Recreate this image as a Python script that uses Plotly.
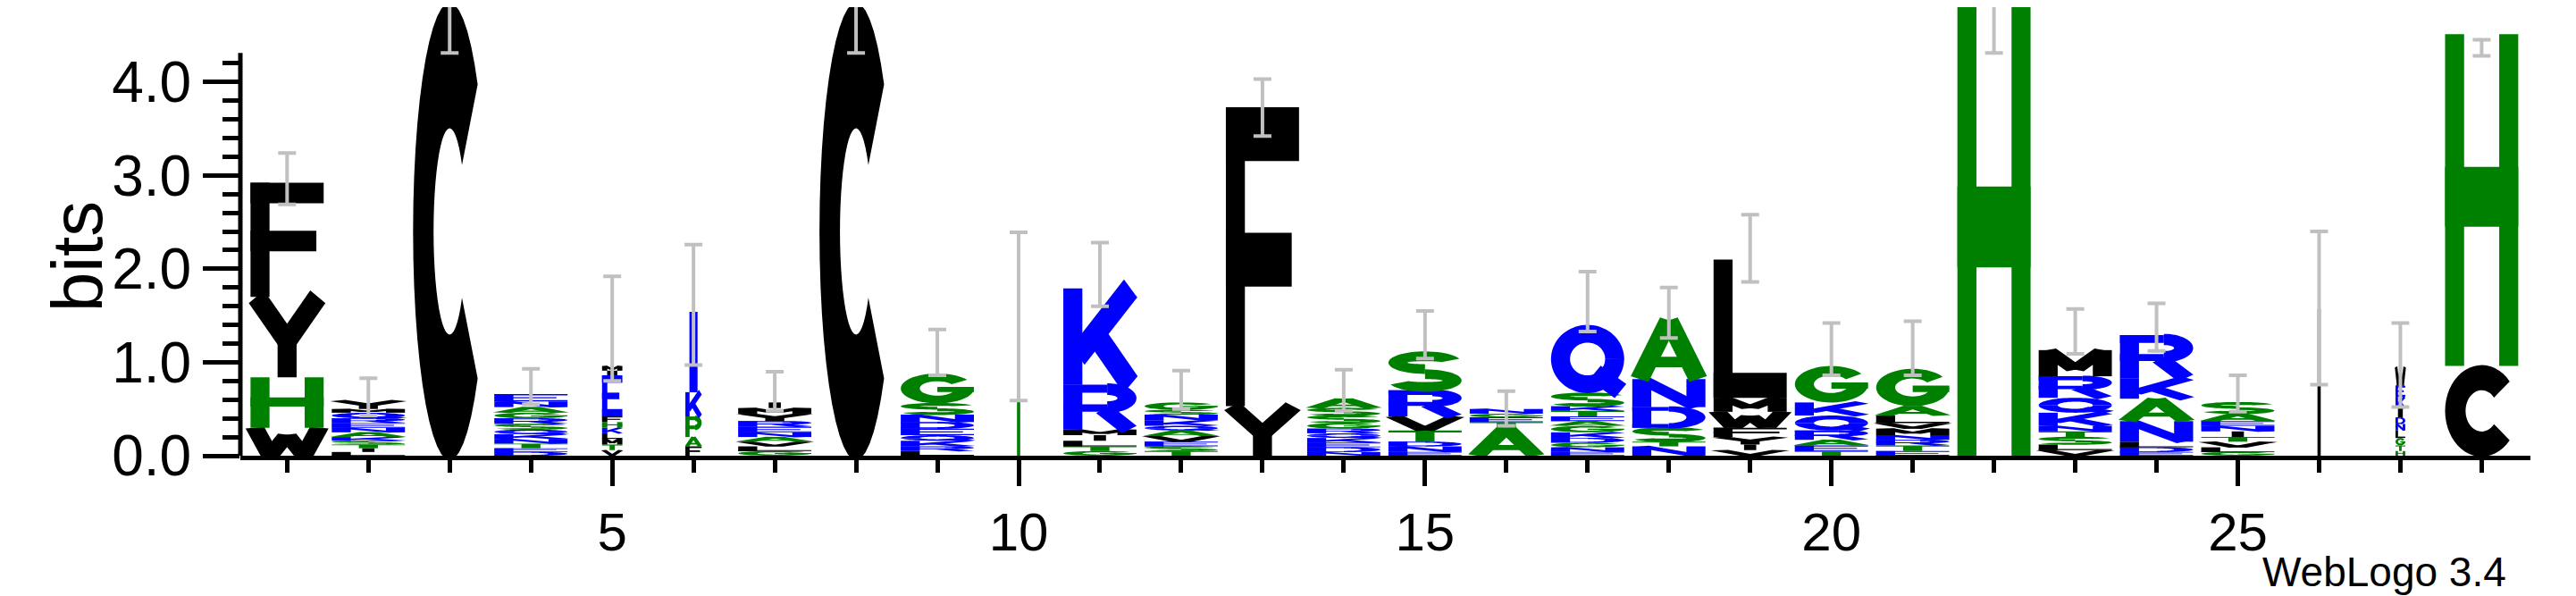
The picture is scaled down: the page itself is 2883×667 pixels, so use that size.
import math
import plotly.graph_objects as go

# ---------------- data ----------------
positions = list(range(1, 29))
# each stack: bottom-to-top list of (letter, height_bits[, colour override])
stacks = [
    [("W", 0.30), ("H", 0.54), ("Y", 0.86), ("F", 1.22)],
    [("L", 0.04), ("I", 0.04), ("T", 0.04), ("S", 0.04), ("K", 0.04), ("A", 0.05), ("N", 0.05), ("E", 0.05), ("R", 0.05), ("Q", 0.06), ("M", 0.04), ("Y", 0.09)],
    [("C", 4.80)],
    [("D", 0.04), ("E", 0.04), ("T", 0.05), ("N", 0.05), ("K", 0.05), ("Q", 0.05), ("S", 0.06), ("R", 0.06), ("G", 0.06), ("A", 0.06), ("N", 0.06), ("E", 0.08)],
    [("V", 0.06), ("T", 0.06), ("M", 0.06), ("L", 0.06), ("K", 0.06), ("H", 0.06), ("F", 0.06), ("E", 0.44, "b"), ("I", 0.05), ("M", 0.05)],
    [("F", 0.10), ("A", 0.10), ("P", 0.22), ("K", 0.26), ("I", 0.86, "b")],
    [("G", 0.05), ("L", 0.05), ("V", 0.05), ("A", 0.05), ("N", 0.05), ("E", 0.06), ("R", 0.06), ("Y", 0.08), ("M", 0.06), ("I", 0.06)],
    [("C", 4.80)],
    [("L", 0.05), ("R", 0.05), ("K", 0.06), ("Q", 0.06), ("E", 0.07), ("D", 0.07), ("N", 0.08), ("S", 0.12), ("G", 0.32)],
    [("I", 1.48, "g")],
    [("G", 0.05), ("T", 0.05), ("L", 0.06), ("I", 0.06), ("M", 0.06), ("R", 0.48), ("K", 1.03)],
    [("T", 0.05), ("S", 0.05), ("E", 0.05), ("V", 0.06), ("A", 0.06), ("Q", 0.05), ("K", 0.06), ("N", 0.06), ("S", 0.05), ("G", 0.08)],
    [("Y", 0.53), ("F", 3.20)],
    [("N", 0.04), ("D", 0.05), ("E", 0.05), ("K", 0.05), ("Q", 0.05), ("R", 0.05), ("G", 0.06), ("S", 0.08), ("S", 0.08), ("A", 0.10)],
    [("E", 0.04), ("N", 0.06), ("D", 0.05), ("T", 0.12), ("V", 0.15), ("R", 0.28), ("S", 0.40)],
    [("A", 0.30), ("T", 0.06), ("E", 0.05), ("G", 0.04), ("N", 0.05)],
    [("E", 0.04), ("N", 0.05), ("G", 0.05), ("D", 0.05), ("K", 0.06), ("G", 0.07), ("A", 0.05), ("E", 0.05), ("T", 0.06), ("K", 0.05), ("S", 0.14), ("Q", 0.73)],
    [("N", 0.10), ("T", 0.05), ("S", 0.15), ("D", 0.22), ("N", 0.30), ("A", 0.63)],
    [("V", 0.06), ("I", 0.06), ("Y", 0.08), ("F", 0.10), ("W", 0.17), ("M", 0.15), ("L", 1.48)],
    [("T", 0.05), ("E", 0.06), ("A", 0.06), ("R", 0.10), ("Q", 0.16), ("K", 0.14), ("G", 0.39)],
    [("E", 0.05), ("T", 0.06), ("R", 0.06), ("N", 0.05), ("M", 0.07), ("V", 0.06), ("L", 0.08), ("A", 0.10), ("G", 0.40)],
    [("H", 4.80)],
    [("V", 0.06), ("L", 0.06), ("S", 0.08), ("T", 0.06), ("N", 0.06), ("K", 0.14), ("Q", 0.16), ("R", 0.23), ("M", 0.28)],
    [("E", 0.04), ("D", 0.05), ("L", 0.06), ("N", 0.22), ("A", 0.24), ("K", 0.22), ("R", 0.46)],
    [("G", 0.04), ("L", 0.05), ("V", 0.06), ("T", 0.05), ("I", 0.06), ("N", 0.06), ("E", 0.05), ("A", 0.08), ("S", 0.12)],
    [("I", 0.75), ("I", 0.82, "g")],
    [("H", 0.05), ("T", 0.06), ("G", 0.08), ("L", 0.08), ("N", 0.07), ("D", 0.07), ("I", 0.10), ("K", 0.12), ("E", 0.12), ("W", 0.20)],
    [("C", 0.96), ("H", 3.55)],
]
# glyph width (fraction of column) for the narrow stacks
narrow = {5: 0.25, 6: 0.2, 10: 0.08, 26: 0.08, 27: 0.12}
err_lo = [2.69, 0.43, 4.31, 0.55, 0.80, 0.97, 0.48, 4.31, 0.86, 0.59, 1.60, 0.50, 3.42, 0.48,
          1.04, 0.32, 1.33, 1.26, 1.86, 0.86, 0.86, 4.31, 1.09, 1.12, 0.47, 0.76, 0.52, 4.28]
err_hi = [3.24, 0.83, 5.20, 0.93, 1.92, 2.26, 0.90, 5.20, 1.35, 2.39, 2.28, 0.91, 4.03, 0.92,
          1.55, 0.69, 1.97, 1.80, 2.58, 1.42, 1.44, 5.20, 1.57, 1.63, 0.86, 2.40, 1.42, 4.45]

COLORS = {"k": "#000000", "g": "#008000", "b": "#0000ff"}
letter_class = {}
for ch in "CFILMVWY":
    letter_class[ch] = "k"
for ch in "AGHPST":
    letter_class[ch] = "g"
for ch in "DEKNQR":
    letter_class[ch] = "b"

# ---------------- glyphs (unit box) ----------------
W = 0.26


def seg(x0, y0, x1, y1, w=W):
    dx, dy = x1 - x0, y1 - y0
    L = math.hypot(dx, dy) or 1
    nx, ny = -dy / L * w / 2, dx / L * w / 2
    return [(x0 + nx, y0 + ny), (x1 + nx, y1 + ny), (x1 - nx, y1 - ny), (x0 - nx, y0 - ny)]


def rect(x0, y0, x1, y1):
    return [(x0, y0), (x1, y0), (x1, y1), (x0, y1)]


def arc(cx, cy, rx, ry, a0, a1, w=W, n=40):
    outer, inner = [], []
    for i in range(n + 1):
        a = math.radians(a0 + (a1 - a0) * i / n)
        outer.append((cx + (rx + w / 2) * math.cos(a), cy + (ry + w / 2) * math.sin(a)))
        inner.append((cx + (rx - w / 2) * math.cos(a), cy + (ry - w / 2) * math.sin(a)))
    return outer + inner[::-1]


def ring(cx, cy, rx, ry):
    return [arc(cx, cy, rx, ry, 0, 181), arc(cx, cy, rx, ry, 180, 361)]


T = W  # stem thickness
V = lambda x0: rect(x0, 0, x0 + T, 1)
GLYPHS = {
    "A": [seg(0.1, 0, 0.5, 1), seg(0.5, 1, 0.9, 0), rect(0.25, 0.2, 0.75, 0.38)],
    "C": [arc(0.5, 0.5, 0.36, 0.37, 40, 320, w=0.28)],
    "D": [V(0), rect(0, 0.82, 0.5, 1), rect(0, 0, 0.5, 0.18), arc(0.5, 0.5, 0.37, 0.41, -90, 90)],
    "E": [V(0), rect(0, 0.82, 1, 1), rect(0, 0.42, 0.85, 0.58), rect(0, 0, 1, 0.18)],
    "F": [V(0), rect(0, 0.82, 1, 1), rect(0, 0.4, 0.9, 0.58)],
    "G": [arc(0.5, 0.5, 0.37, 0.37, 35, 360), rect(0.5, 0.38, 1.0, 0.55)],
    "H": [V(0), V(1 - T), rect(0, 0.42, 1, 0.6)],
    "I": [rect(0.25, 0, 0.75, 1)],
    "K": [V(0), seg(0.2, 0.3, 0.92, 1), seg(0.42, 0.55, 0.92, 0)],
    "L": [V(0), rect(0, 0, 1, 0.18)],
    "M": [V(0), V(1 - T), seg(0.12, 1, 0.5, 0.25), seg(0.5, 0.25, 0.88, 1)],
    "N": [V(0), V(1 - T), seg(0.12, 1, 0.88, 0)],
    "P": [V(0), rect(0, 0.82, 0.6, 1), rect(0, 0.38, 0.6, 0.56), arc(0.6, 0.69, 0.27, 0.22, -90, 90)],
    "Q": ring(0.5, 0.5, 0.37, 0.37) + [seg(0.6, 0.3, 0.95, 0.03)],
    "R": [V(0), rect(0, 0.82, 0.6, 1), rect(0, 0.4, 0.6, 0.56), arc(0.6, 0.7, 0.27, 0.2, -90, 90), seg(0.55, 0.45, 0.9, 0)],
    "S": [arc(0.5, 0.74, 0.37, 0.17, 20, 270), arc(0.5, 0.26, 0.37, 0.17, -160, 90)],
    "T": [rect(0, 0.82, 1, 1), rect(0.5 - T / 2, 0, 0.5 + T / 2, 0.9)],
    "V": [seg(0.08, 1, 0.5, 0), seg(0.5, 0, 0.92, 1)],
    "W": [seg(0.06, 1, 0.27, 0), seg(0.27, 0, 0.5, 0.75), seg(0.5, 0.75, 0.73, 0), seg(0.73, 0, 0.94, 1)],
    "Y": [seg(0.08, 1, 0.5, 0.45), seg(0.92, 1, 0.5, 0.45), rect(0.5 - T / 2, 0, 0.5 + T / 2, 0.5)],
}

shapes = []
for pos, stack in zip(positions, stacks):
    col_w = narrow.get(pos, 0.9)
    y0 = 0.0
    for item in stack:
        ch, h = item[0], item[1]
        cls = item[2] if len(item) > 2 else letter_class[ch]
        w = col_w if not (ch == "I" and pos not in narrow) else 0.3
        if h > 0.005:
            for poly in GLYPHS[ch]:
                pts = [(pos - w / 2 + w * gx, y0 + h * gy) for gx, gy in poly]
                path = "M" + "L".join(f"{x:.4f},{y:.4f}" for x, y in pts) + "Z"
                shapes.append(dict(type="path", xref="x", yref="y", path=path,
                                   fillcolor=COLORS[cls], line=dict(width=0), layer="below"))
        y0 += h

# y axis line (partial height)
shapes.append(dict(type="line", xref="paper", yref="y", x0=0, x1=0, y0=0, y1=4.31,
                   line=dict(color="black", width=5)))

mid = [(a + b) / 2 for a, b in zip(err_lo, err_hi)]
half = [(b - a) / 2 for a, b in zip(err_lo, err_hi)]

fig = go.Figure()
fig.add_trace(go.Scatter(
    x=positions, y=mid, mode="markers", marker=dict(size=1, color="rgba(0,0,0,0)"),
    error_y=dict(type="data", array=half, color="#c0c0c0", thickness=4, width=10),
    showlegend=False, hoverinfo="skip", cliponaxis=True))

FONT = "Liberation Sans"
fig.update_layout(
    width=2883, height=667, margin=dict(l=261, r=59, t=0, b=165),
    paper_bgcolor="white", plot_bgcolor="white", shapes=shapes,
    font=dict(family=FONT, color="black"),
    xaxis=dict(range=[0.425, 28.6], showgrid=False, zeroline=False, showline=True,
               linecolor="black", linewidth=5, ticks="outside", ticklen=29, tickwidth=5,
               tickcolor="black", tickvals=[5, 10, 15, 20, 25],
               tickfont=dict(size=60, family=FONT), ticklabelstandoff=0,
               minor=dict(tickvals=positions, ticks="outside", ticklen=14, tickwidth=5,
                          tickcolor="black", showgrid=False)),
    yaxis=dict(range=[0, 4.8], showgrid=False, zeroline=False, showline=False,
               ticks="outside", ticklen=41, tickwidth=5, tickcolor="black",
               tickvals=[0, 1, 2, 3, 4], ticktext=["0.0", "1.0", "2.0", "3.0", "4.0"],
               tickfont=dict(size=64, family=FONT),
               minor=dict(tickvals=[i / 5 for i in range(1, 22) if i % 5], ticks="outside",
                          ticklen=19, tickwidth=5, tickcolor="black", showgrid=False)),
    annotations=[
        dict(text="bits", xref="paper", yref="y", x=(78 - 261) / 2563, y=2.13, showarrow=False,
             textangle=-90, font=dict(size=80, family=FONT), xanchor="center", yanchor="middle"),
        dict(text="WebLogo 3.4", xref="paper", yref="paper", x=(2660 - 261) / 2563,
             y=(502 - 632) / 502, showarrow=False, font=dict(size=46, family=FONT),
             xanchor="center", yanchor="middle"),
    ],
)
fig.write_html("out.html")
